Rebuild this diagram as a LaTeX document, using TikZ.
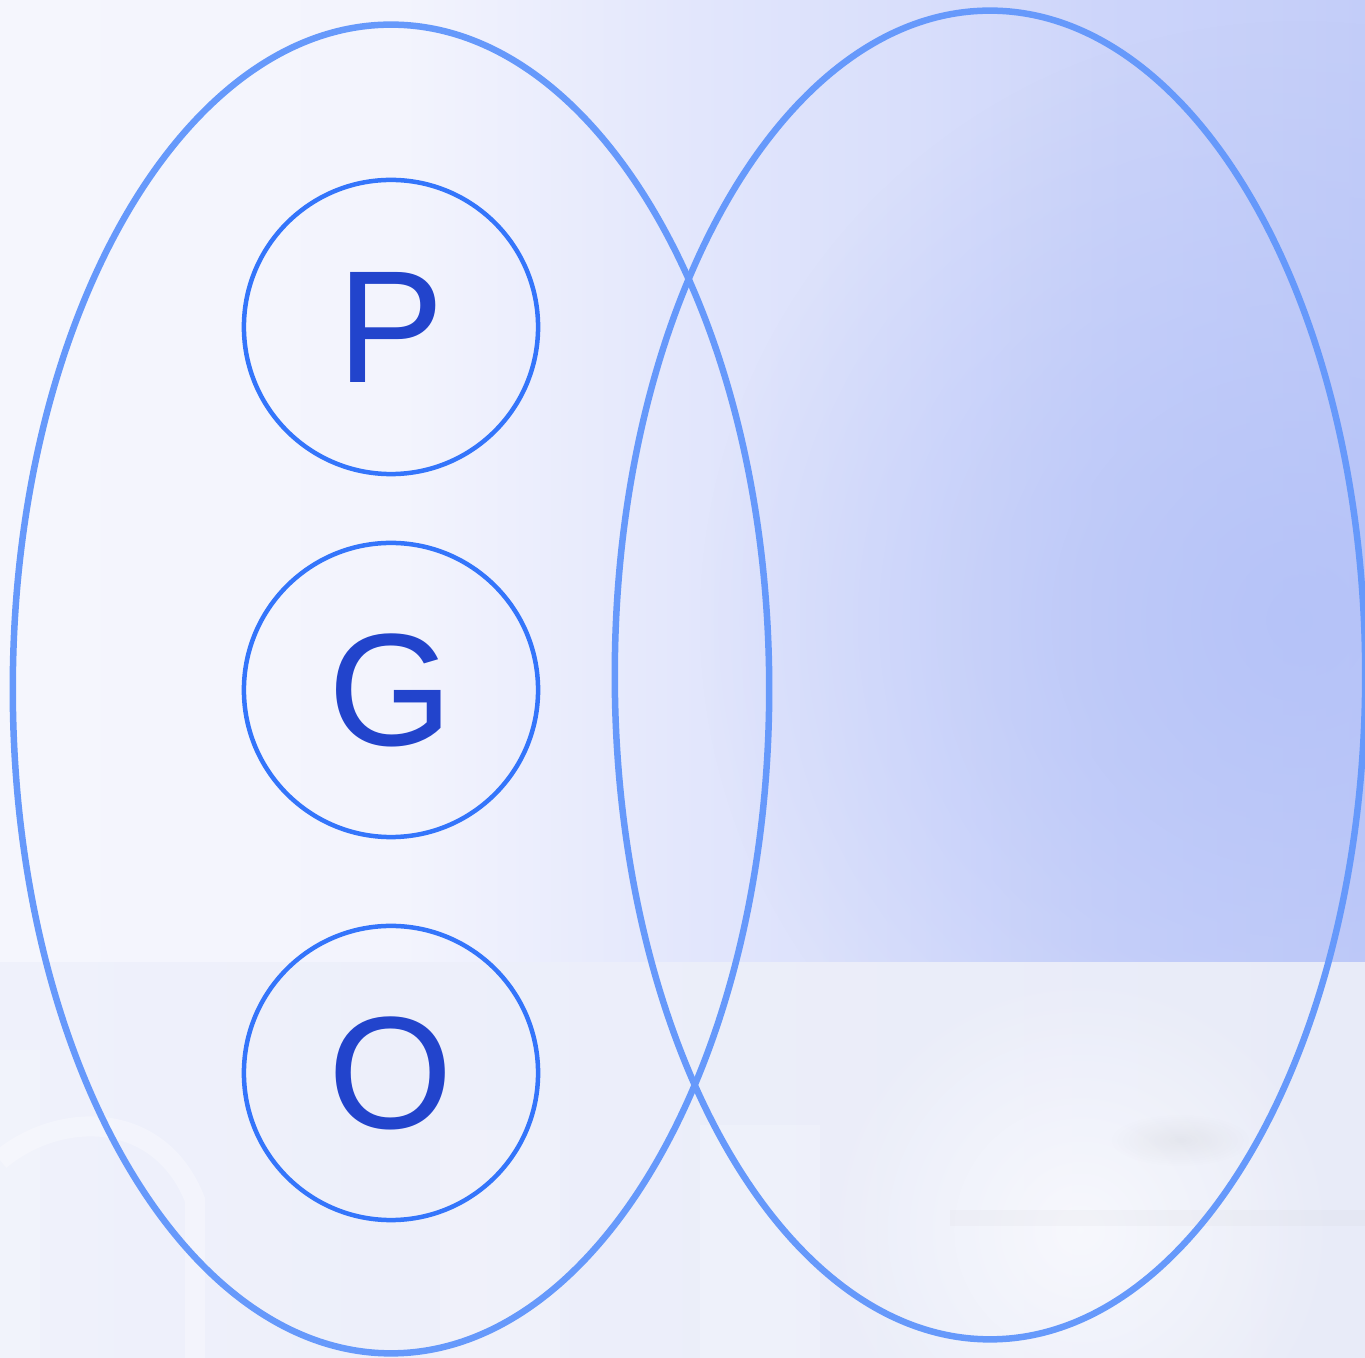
\documentclass[tikz,border=0pt]{standalone}
\usepackage{fontspec}
\setmainfont{Liberation Sans}
\usetikzlibrary{shapes.geometric,fadings}
\definecolor{bgA}{HTML}{F5F6FD}
\definecolor{bg1}{HTML}{F3F4FD}
\definecolor{bg2}{HTML}{E2E6FC}
\definecolor{bg3}{HTML}{D9DFFB}
\definecolor{bg4}{HTML}{CDD5FA}
\definecolor{bg5}{HTML}{C3CDF9}
\definecolor{bgB}{HTML}{B3C1F8}
\definecolor{lowA}{HTML}{EFF1FB}
\definecolor{lowB}{HTML}{E8EBF8}
\definecolor{ringcol}{HTML}{6699FB}
\definecolor{circcol}{HTML}{3475FB}
\definecolor{letcol}{HTML}{2244CC}
\pgfdeclarehorizontalshading{bgshade}{100bp}{color(0bp)=(bgA); color(25bp)=(bgA); color(39.7bp)=(bg1); color(50.6bp)=(bg2); color(58bp)=(bg3); color(65.3bp)=(bg4); color(75bp)=(bg5); color(100bp)=(bg5)}
\tikzfading[name=spotfade, inner color=transparent!0, outer color=transparent!100]
\tikzfading[name=softfade, inner color=transparent!20, outer color=transparent!100]
\tikzset{
  bigring/.style={ellipse, draw=ringcol, line width=0.065cm, inner sep=0pt, outer sep=0pt},
  letcircle/.style={circle, draw=circcol, line width=0.045cm, minimum size=2.94cm, inner sep=0pt,
    text=letcol, font=\fontsize{45.5}{50}\selectfont}
}
\begin{document}
\begin{tikzpicture}[x=0.01cm, y=-0.01cm]
\useasboundingbox (0,0) rectangle (1365,1358);
% upper background
\shade[shading=bgshade] (0,0) rectangle (1365,963);
\begin{scope}
  \clip (0,0) rectangle (1365,963);
  \fill[bgB, path fading=spotfade, fill opacity=0.85] (1300,620) circle[radius=600];
\end{scope}
% lower faded band
\shade[left color=lowA, right color=lowB] (0,963) rectangle (1365,1358);
\begin{scope}
  \clip (0,963) rectangle (1365,1358);
  \fill[white, path fading=softfade, fill opacity=0.8] (1080,1230) ellipse[x radius=260, y radius=260];
  \draw[white, opacity=0.3, line width=0.2cm] (930,1358) arc[start angle=180, end angle=20, x radius=190, y radius=310];
  \fill[gray, opacity=0.035] (950,1210) rectangle (1365,1226);
  \fill[gray, path fading=softfade, fill opacity=0.12] (1180,1140) ellipse[x radius=70, y radius=26];
  \draw[white, opacity=0.3, line width=0.2cm] (0,1160) .. controls (60,1110) and (160,1110) .. (195,1200) -- (195,1358);
  \fill[white, opacity=0.18] (440,1130) rectangle (560,1358);
  \fill[white, opacity=0.18] (700,1125) rectangle (820,1358);
  \fill[white, opacity=0.18] (0,1050) rectangle (40,1358);
\end{scope}
% big ellipses
\node[bigring, minimum width=7.5cm, minimum height=13.28cm] (right) at (990,675) {};
\node[bigring, minimum width=7.56cm, minimum height=13.28cm] (left) at (391,689) {};
% letter circles
\node[letcircle] (p) at (391,327) {P};
\node[letcircle] (g) at (391,690) {G};
\node[letcircle] (o) at (391,1073) {O};
\end{tikzpicture}
\end{document}
